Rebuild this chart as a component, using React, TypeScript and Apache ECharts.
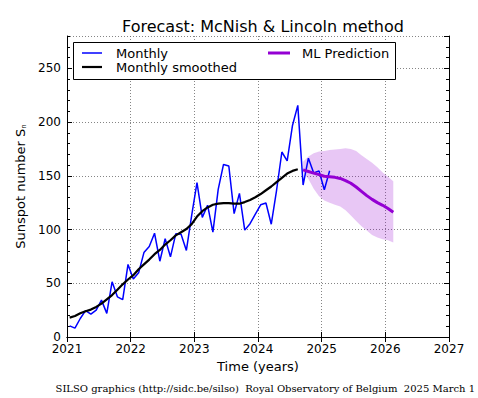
import React, { useEffect, useRef } from "react";
import * as echarts from "echarts";

// Monthly mean sunspot number, Jan 2021 .. Feb 2025
const monthly = [
  10.4, 8.2, 17.2, 24.5, 21.2, 25.0, 34.3, 22.0, 51.3, 37.4, 34.8, 67.5,
  54.0, 59.7, 78.5, 84.1, 96.5, 70.5, 91.4, 74.6, 96.0, 95.5, 80.5, 113.1,
  143.6, 111.3, 122.6, 97.6, 137.4, 160.5, 159.1, 114.8, 133.6, 99.4, 105.4, 114.2,
  123.0, 124.7, 104.9, 136.5, 172.1, 163.8, 196.8, 215.5, 141.4, 166.3, 152.5, 154.5,
  137.0, 154.6,
];
// 13-month smoothed, Jan 2021 .. Aug 2024
const smoothed = [
  18, 19.5, 22, 24, 25.5, 28, 31, 35, 39, 44, 49, 53.5,
  57.5, 63, 67.5, 72, 77, 81, 86, 90, 94.5, 97.5, 100.5, 105,
  112, 117, 120.5, 123, 124, 124.5, 124.5, 124, 124, 125.5, 127.5, 130,
  133, 136.5, 140, 144, 148, 152, 154.5, 156,
];
// ML prediction, Sep 2024 .. Feb 2026
const mlPrediction = [
  155.5, 154, 152.5, 151, 149.5, 149, 148.5, 147.5, 145.5, 143, 139.5, 135.5,
  131.5, 128, 125, 122.5, 119.5, 116,
];
const mlUpper = [
  163, 168, 171, 172.5, 173, 174, 174.5, 175, 175.5, 175, 173, 169,
  165.5, 162, 158, 153, 149, 145,
];
const mlLower = [
  153, 147, 138, 131, 127, 125, 123, 121.5, 118, 113, 108, 103,
  99, 95, 92.5, 91, 90, 88,
];
const monthlyStart = { year: 2021, month: 0 };
const smoothedStart = { year: 2021, month: 0 };
const mlStart = { year: 2024, month: 8 };

const X_MIN = 2021;
const X_MAX = 2027;
const Y_MIN = 0;
const Y_MAX = 280;

const monthX = (s: { year: number; month: number }, i: number) =>
  s.year + (s.month + i + 0.5) / 12;
const toPairs = (vals: number[], s: { year: number; month: number }) =>
  vals.map((v, i) => [monthX(s, i), v]);

const FONT = "DejaVu Sans";
const grid = { left: 67, right: 29, top: 36, bottom: 61 };
const gridLine = { show: true, lineStyle: { color: "#666", width: 0.8, type: [1, 2] as any } };

export default function App() {
  const ref = useRef<HTMLDivElement>(null);
  useEffect(() => {
    if (!ref.current) return;
    const chart = echarts.init(ref.current, null, { renderer: "svg" });
    const plotRight = 478 - grid.right;
    const plotCenter = (grid.left + plotRight) / 2;
    const bandData = mlUpper.map((u, i) => [monthX(mlStart, i), mlLower[i], u]);
    chart.setOption({
      animation: false,
      backgroundColor: "#fff",
      textStyle: { fontFamily: FONT },
      title: {
        text: "Forecast: McNish & Lincoln method",
        left: plotCenter,
        top: 13,
        textAlign: "center",
        textStyle: { fontFamily: FONT, fontSize: 16, fontWeight: "normal", color: "#000" },
      },
      grid: { ...grid, containLabel: false },
      xAxis: [
        {
          type: "value",
          min: X_MIN,
          max: X_MAX,
          interval: 1,
          position: "bottom",
          name: "Time (years)",
          nameLocation: "middle",
          nameGap: 22,
          nameTextStyle: { fontFamily: FONT, fontSize: 13, color: "#000" },
          axisLine: { show: true, lineStyle: { color: "#000", width: 1 } },
          axisTick: { show: true, inside: true, length: 5, lineStyle: { color: "#000" } },
          axisLabel: {
            fontFamily: FONT,
            fontSize: 12,
            color: "#000",
            margin: 6,
            formatter: (v: number) => String(v),
          },
          splitLine: gridLine,
        },
        {
          type: "value",
          min: X_MIN,
          max: X_MAX,
          interval: 1,
          position: "top",
          axisLine: { show: true, lineStyle: { color: "#000", width: 1 } },
          axisTick: { show: true, inside: true, length: 5, lineStyle: { color: "#000" } },
          axisLabel: { show: false },
          splitLine: { show: false },
        },
      ],
      yAxis: [
        {
          type: "value",
          min: Y_MIN,
          max: Y_MAX,
          interval: 50,
          position: "left",
          name: "Sunspot number S{sub|n}",
          nameLocation: "middle",
          nameGap: 38,
          nameTextStyle: {
            fontFamily: FONT,
            fontSize: 13,
            color: "#000",
            rich: { sub: { fontFamily: FONT, fontSize: 7, verticalAlign: "bottom", color: "#000" } },
          },
          axisLine: { show: true, lineStyle: { color: "#000", width: 1 } },
          axisTick: { show: true, inside: true, length: 5, lineStyle: { color: "#000" } },
          axisLabel: { fontFamily: FONT, fontSize: 12, color: "#000", margin: 6, showMaxLabel: false },
          splitLine: gridLine,
        },
        {
          type: "value",
          min: Y_MIN,
          max: Y_MAX,
          interval: 10,
          position: "left",
          axisLine: { show: false },
          axisTick: { show: true, inside: true, length: 3, lineStyle: { color: "#000" } },
          axisLabel: { show: false },
          splitLine: { show: false },
        },
        {
          type: "value",
          min: Y_MIN,
          max: Y_MAX,
          interval: 10,
          position: "right",
          axisLine: { show: true, lineStyle: { color: "#000", width: 1 } },
          axisTick: { show: true, inside: true, length: 3, lineStyle: { color: "#000" } },
          axisLabel: { show: false },
          splitLine: { show: false },
        },
        {
          type: "value",
          min: Y_MIN,
          max: Y_MAX,
          interval: 50,
          position: "right",
          axisLine: { show: false },
          axisTick: { show: true, inside: true, length: 5, lineStyle: { color: "#000" } },
          axisLabel: { show: false },
          splitLine: { show: false },
        },
      ],
      series: [
        {
          name: "ML range",
          type: "custom",
          xAxisIndex: 0,
          yAxisIndex: 0,
          silent: true,
          z: 1,
          data: bandData,
          encode: { x: 0, y: [1, 2] },
          renderItem: (params: any, api: any) => {
            if (params.dataIndex !== 0) return null;
            const upper = bandData.map((d) => api.coord([d[0], d[2]]));
            const lower = bandData.map((d) => api.coord([d[0], d[1]])).reverse();
            return {
              type: "polygon",
              shape: { points: upper.concat(lower) },
              style: { fill: "rgba(148,0,211,0.22)" },
            };
          },
        },
        {
          name: "Monthly",
          type: "line",
          data: toPairs(monthly, monthlyStart),
          symbol: "none",
          lineStyle: { color: "#0000ff", width: 1.5 },
          z: 3,
        },
        {
          name: "Monthly smoothed",
          type: "line",
          data: toPairs(smoothed, smoothedStart),
          symbol: "none",
          lineStyle: { color: "#000", width: 2.2 },
          z: 4,
        },
        {
          name: "ML Prediction",
          type: "line",
          data: toPairs(mlPrediction, mlStart),
          symbol: "none",
          lineStyle: { color: "#9400d3", width: 3 },
          z: 5,
        },
      ],
      graphic: [
        {
          type: "rect",
          z: 100,
          shape: { x: 73.5, y: 42.5, width: 322, height: 37 },
          style: { fill: "#fff", stroke: "#000", lineWidth: 1 },
        },
        {
          type: "line",
          z: 101,
          shape: { x1: 82, y1: 53, x2: 102, y2: 53 },
          style: { stroke: "#0000ff", lineWidth: 1.5 },
        },
        {
          type: "text",
          z: 101,
          x: 116,
          y: 53,
          style: { text: "Monthly", font: `13px '${FONT}'`, fill: "#000", verticalAlign: "middle" },
        },
        {
          type: "line",
          z: 101,
          shape: { x1: 82, y1: 67, x2: 102, y2: 67 },
          style: { stroke: "#000", lineWidth: 2.2 },
        },
        {
          type: "text",
          z: 101,
          x: 116,
          y: 67,
          style: { text: "Monthly smoothed", font: `13px '${FONT}'`, fill: "#000", verticalAlign: "middle" },
        },
        {
          type: "line",
          z: 101,
          shape: { x1: 268, y1: 53, x2: 290, y2: 53 },
          style: { stroke: "#9400d3", lineWidth: 3 },
        },
        {
          type: "text",
          z: 101,
          x: 302,
          y: 53,
          style: { text: "ML Prediction", font: `13px '${FONT}'`, fill: "#000", verticalAlign: "middle" },
        },
        {
          type: "text",
          z: 101,
          x: 475,
          y: 388,
          style: {
            text: "SILSO graphics (http://sidc.be/silso)  Royal Observatory of Belgium  2025 March 1",
            font: "10px 'DejaVu Serif'",
            fill: "#000",
            align: "right",
            verticalAlign: "middle",
          },
        },
      ],
    });
    return () => chart.dispose();
  }, []);
  return (
    <div
      ref={ref}
      style={{ position: "fixed", left: 0, top: 0, width: 478, height: 398 }}
    />
  );
}
